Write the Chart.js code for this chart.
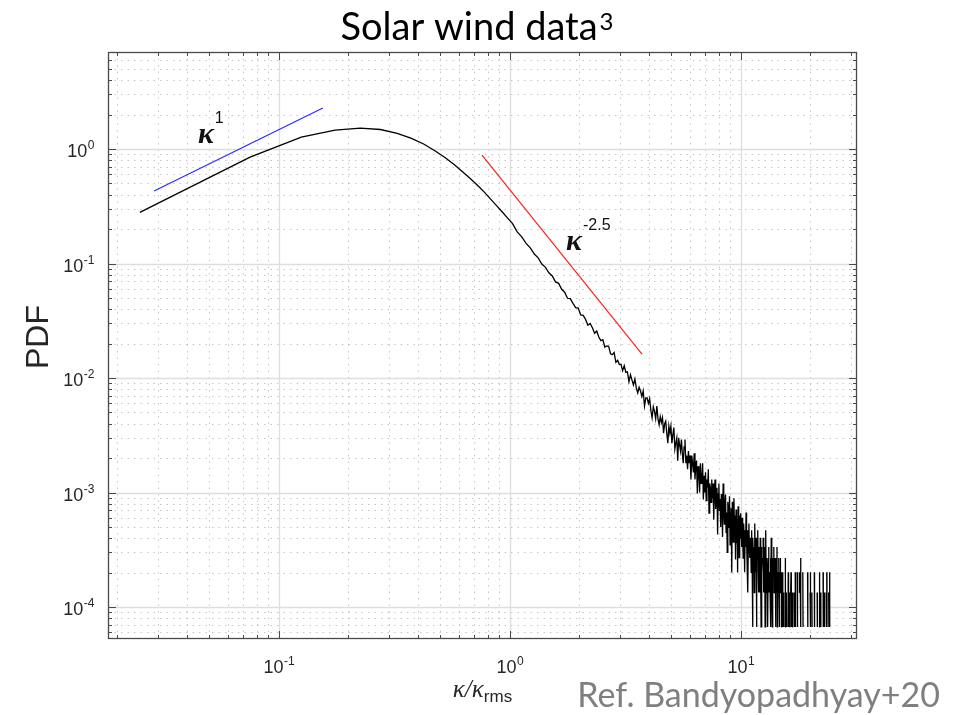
<!DOCTYPE html>
<html>
<head>
<meta charset="utf-8">
<title>Solar wind data</title>
<script src="https://cdn.jsdelivr.net/npm/chart.js@4.4.1/dist/chart.umd.min.js"></script>
<style>
  html, body { margin: 0; padding: 0; background: #fff; }
  canvas { display: block; }
</style>
</head>
<body>
<canvas id="pdfChart" width="969" height="715"></canvas>
<script>
// Histogram bins are linear in kappa/kappa_rms, first bin centred at 0.025
const binStart = 0.025;
const binWidth = 0.05;

// PDF of the well-sampled bins (0.025 ... 9.975)
const pdfCore = [
    0.28, 0.85, 1.27, 1.46, 1.52, 1.48, 1.37, 1.24, 1.10, 0.96,
    0.84, 0.73, 0.63, 0.55, 0.48, 0.42, 0.365, 0.32, 0.283, 0.25,
    0.224, 0.189, 0.171, 0.150, 0.137, 0.121, 0.112, 0.099, 0.0925, 0.0830,
    0.0779, 0.0691, 0.0671, 0.0596, 0.0561, 0.0497, 0.0493, 0.0449, 0.0412, 0.0408,
    0.0355, 0.0353, 0.0325, 0.0289, 0.0299, 0.0275, 0.0246, 0.0257, 0.0228, 0.0212,
    0.0216, 0.0186, 0.0191, 0.0189, 0.0163, 0.0160, 0.0167, 0.0137, 0.0143, 0.0131,
    0.0132, 0.0116, 0.0128, 0.0112, 0.0113, 0.0093, 0.0107, 0.0096, 0.0087, 0.0098,
    0.0082, 0.0074, 0.0083, 0.0077, 0.0069, 0.0077, 0.0057, 0.0067, 0.0067, 0.0060,
    0.0066, 0.0052, 0.0045, 0.0056, 0.0051, 0.0044, 0.0057, 0.0044, 0.0039, 0.0046,
    0.0041, 0.0045, 0.0033, 0.0040, 0.0042, 0.0033, 0.0027, 0.0038, 0.0033, 0.0038,
    0.0027, 0.0032, 0.0037, 0.0024, 0.0027, 0.0030, 0.0019, 0.0030, 0.0026, 0.0023,
    0.0029, 0.0022, 0.0018, 0.0025, 0.0029, 0.0018, 0.0021, 0.0016, 0.0023, 0.0018,
    0.0021, 0.0013, 0.0021, 0.0018, 0.0015, 0.0022, 0.0013, 0.0017, 0.0019, 0.00098,
    0.0017, 0.0015, 0.0010, 0.0018, 0.0012, 0.0013, 0.0018, 0.00087, 0.0014, 0.0010,
    0.0015, 0.00085, 0.0013, 0.0011, 0.0016, 0.00066, 0.0012, 0.0011, 0.00082, 0.0013,
    0.00089, 0.0012, 0.00058, 0.00100, 0.0013, 0.00072, 0.00087, 0.0011, 0.00043, 0.00098,
    0.0012, 0.00069, 0.00088, 0.0005, 0.00097, 0.00079, 0.00041, 0.0012, 0.0007, 0.00053,
    0.00084, 0.00096, 0.00045, 0.00067, 0.0003, 0.00083, 0.0007, 0.00049, 0.00093, 0.00035,
    0.0005, 0.00073, 0.0002, 0.00083, 0.00061, 0.00037, 0.00089, 0.00048, 0.00063, 0.00026,
    0.00071, 0.00036, 0.00059, 0.0002, 0.00076, 0.00048, 0.00027, 0.00063, 0.0004, 0.00066
];

// Raw counts in the sparse tail bins (10.025 ... 24.275), 0 = empty bin
const tailCounts = [
    7, 5, 9, 6, 4, 8, 6, 3, 7, 5, 10, 6, 4, 7, 2, 6, 8, 5, 4, 6,
    5, 3, 7, 4, 1, 6, 4, 5, 2, 8, 4, 3, 6, 1, 5, 4, 7, 3, 2, 5,
    4, 2, 6, 3, 1, 5, 3, 4, 0, 6, 3, 2, 5, 4, 1, 3, 7, 2, 4, 3,
    3, 1, 4, 2, 5, 0, 3, 2, 4, 1, 6, 3, 2, 1, 4, 3, 0, 5, 2, 3,
    2, 4, 1, 3, 0, 2, 5, 1, 3, 2, 0, 4, 2, 1, 3, 2, 4, 0, 1, 3,
    2, 0, 3, 1, 0, 2, 1, 0, 3, 0, 1, 4, 0, 2, 1, 0, 2, 0, 0, 1,
    3, 1, 0, 0, 1, 2, 0, 0, 2, 3, 1, 0, 0, 1, 2, 0, 0, 1, 0, 2,
    1, 0, 0, 3, 1, 0, 0, 2, 0, 0, 3, 1, 0, 0, 1, 0, 0, 2, 3, 0,
    0, 2, 4, 1, 0, 0, 0, 1, 0, 0, 3, 1, 0, 0, 0, 0, 1, 0, 2, 0,
    0, 0, 0, 1, 0, 0, 0, 0, 3, 1, 0, 0, 0, 0, 1, 0, 0, 0, 2, 1,
    3, 0, 0, 0, 0, 2, 1, 0, 0, 0, 0, 0, 0, 1, 0, 3, 1, 0, 0, 0,
    0, 0, 1, 0, 0, 0, 0, 2, 1, 0, 0, 0, 0, 0, 0, 0, 1, 3, 1, 0,
    0, 0, 2, 1, 0, 0, 0, 0, 0, 0, 0, 1, 0, 3, 1, 0, 0, 0, 2, 1,
    0, 0, 0, 1, 0, 0, 0, 2, 1, 0, 3, 1, 0, 0, 0, 0, 1, 0, 0, 2,
    1, 0, 2, 3, 1, 2
];
const pdfPerCount = 6.7e-5;

// Power-law guide lines
const guideOneX = [0.0288, 0.155];
const guideOneY = [0.43, 2.28];
const guideSteepX = [0.757, 3.73];
const guideSteepY = [0.886, 0.0162];

// Axis limits and labelled decades
const xLimits = [0.0182, 31.8];
const yLimits = [5.26e-5, 7.03];
const xDecades = [-1, 0, 1];
const yDecades = [0, -1, -2, -3, -4];

// ---------------------------------------------------------------------------

const curve = [];
pdfCore.forEach((v, i) => curve.push({ x: binStart + i * binWidth, y: v }));
tailCounts.forEach((c, j) => curve.push({
    x: binStart + (pdfCore.length + j) * binWidth,
    y: c > 0 ? c * pdfPerCount : null
}));

const toPoints = (xs, ys) => xs.map((v, i) => ({ x: v, y: ys[i] }));

const INK = '#262626';
const SANS = '"Liberation Sans", Arial, sans-serif';
const TITLE_FONT = 'Lato, "Open Sans", sans-serif';

// 1..9 x 10^n positions inside a range
function logTicks(min, max) {
    const out = [];
    for (let e = Math.floor(Math.log10(min)); e <= Math.ceil(Math.log10(max)); e++) {
        for (let m = 1; m <= 9; m++) {
            const v = m * Math.pow(10, e);
            if (v >= min && v <= max) out.push({ value: v, major: m === 1 });
        }
    }
    return out;
}

function seg(ctx, x1, y1, x2, y2) {
    ctx.beginPath();
    ctx.moveTo(x1, y1);
    ctx.lineTo(x2, y2);
    ctx.stroke();
}

// "10" with a raised exponent
function powerLabel(ctx, exp, x, baseY, align) {
    ctx.font = '18px ' + SANS;
    const wBase = ctx.measureText('10').width;
    ctx.font = '12px ' + SANS;
    const wExp = ctx.measureText(exp).width;
    const left = align === 'center' ? x - (wBase + wExp) / 2 : x - wBase - wExp;
    ctx.font = '18px ' + SANS;
    ctx.fillText('10', left, baseY);
    ctx.font = '12px ' + SANS;
    ctx.fillText(exp, left + wBase + 0.5, baseY - 8);
}

// bold kappa with a power, used for the guide-line labels
function kappaPower(ctx, exp, x, baseY) {
    ctx.font = 'bold italic 30px "Liberation Serif", serif';
    ctx.fillText('\u03BA', x, baseY);
    const w = ctx.measureText('\u03BA').width;
    ctx.font = '16px ' + SANS;
    ctx.fillText(exp, x + w + 1, baseY - 20);
}

const axesDecor = {
    id: 'axesDecor',
    beforeDraw(chart) {
        const ctx = chart.ctx;
        ctx.save();
        ctx.fillStyle = '#fff';
        ctx.fillRect(0, 0, chart.width, chart.height);
        ctx.restore();
    },
    beforeDatasetsDraw(chart) {
        const { ctx, chartArea: a, scales: { x, y } } = chart;
        const xt = logTicks(x.min, x.max);
        const yt = logTicks(y.min, y.max);
        ctx.save();
        ctx.lineWidth = 1;

        // minor grid (dotted)
        ctx.strokeStyle = '#c6c6c6';
        ctx.setLineDash([1.5, 5]);
        xt.filter(t => !t.major).forEach(t => {
            const px = Math.round(x.getPixelForValue(t.value)) + 0.5;
            seg(ctx, px, a.top, px, a.bottom);
        });
        yt.filter(t => !t.major).forEach(t => {
            const py = Math.round(y.getPixelForValue(t.value)) + 0.5;
            seg(ctx, a.left, py, a.right, py);
        });

        // major grid (solid)
        ctx.setLineDash([]);
        ctx.strokeStyle = '#dedede';
        ctx.lineWidth = 1.3;
        xt.filter(t => t.major).forEach(t => {
            const px = Math.round(x.getPixelForValue(t.value)) + 0.5;
            seg(ctx, px, a.top, px, a.bottom);
        });
        yt.filter(t => t.major).forEach(t => {
            const py = Math.round(y.getPixelForValue(t.value)) + 0.5;
            seg(ctx, a.left, py, a.right, py);
        });
        ctx.restore();
    },
    afterDatasetsDraw(chart) {
        const { ctx, chartArea: a, scales: { x, y } } = chart;
        ctx.save();

        // box and inward ticks on all four sides
        ctx.strokeStyle = '#4a4a4a';
        ctx.lineWidth = 1.3;
        ctx.strokeRect(a.left + 0.5, a.top + 0.5, a.right - a.left - 1, a.bottom - a.top - 1);
        ctx.lineWidth = 1;
        logTicks(x.min, x.max).forEach(t => {
            const px = Math.round(x.getPixelForValue(t.value)) + 0.5;
            const len = t.major ? 8 : 4;
            seg(ctx, px, a.bottom, px, a.bottom - len);
            seg(ctx, px, a.top, px, a.top + len);
        });
        logTicks(y.min, y.max).forEach(t => {
            const py = Math.round(y.getPixelForValue(t.value)) + 0.5;
            const len = t.major ? 8 : 4;
            seg(ctx, a.left, py, a.left + len, py);
            seg(ctx, a.right, py, a.right - len, py);
        });

        // tick labels
        ctx.fillStyle = INK;
        ctx.textAlign = 'left';
        ctx.textBaseline = 'alphabetic';
        xDecades.forEach(d => {
            powerLabel(ctx, String(d), x.getPixelForValue(Math.pow(10, d)), a.bottom + 34, 'center');
        });
        yDecades.forEach(d => {
            powerLabel(ctx, String(d), a.left - 14, y.getPixelForValue(Math.pow(10, d)) + 8, 'right');
        });

        // y axis title
        ctx.save();
        ctx.translate(48, 337);
        ctx.rotate(-Math.PI / 2);
        ctx.textAlign = 'center';
        ctx.font = '32px ' + SANS;
        ctx.fillText('PDF', 0, 0);
        ctx.restore();

        // x axis title: kappa / kappa_rms
        ctx.font = 'italic 25px "Liberation Serif", serif';
        const k = '\u03BA';
        const wK = ctx.measureText(k).width;
        const wS = ctx.measureText('/').width;
        ctx.font = '17px ' + SANS;
        const wR = ctx.measureText('rms').width;
        let cx = (a.left + a.right) / 2 - (2 * wK + wS + wR) / 2;
        const by = 697;
        ctx.font = 'italic 25px "Liberation Serif", serif';
        ctx.fillText(k, cx, by); cx += wK;
        ctx.fillText('/', cx, by); cx += wS;
        ctx.fillText(k, cx, by); cx += wK;
        ctx.font = '17px ' + SANS;
        ctx.fillText('rms', cx, by + 5);

        // guide-line labels
        ctx.fillStyle = '#111';
        kappaPower(ctx, '1', x.getPixelForValue(0.0446), y.getPixelForValue(1.13));
        kappaPower(ctx, '-2.5', x.getPixelForValue(1.75), y.getPixelForValue(0.131));

        // title with superscript
        ctx.fillStyle = '#000';
        ctx.font = '38px ' + TITLE_FONT;
        const tMain = 'Solar wind data';
        const wT = ctx.measureText(tMain).width;
        ctx.font = '24px ' + TITLE_FONT;
        const wSup = ctx.measureText('3').width;
        const tx = 477 - (wT + wSup + 2) / 2;
        ctx.font = '38px ' + TITLE_FONT;
        ctx.fillText(tMain, tx, 40);
        ctx.font = '24px ' + TITLE_FONT;
        ctx.fillText('3', tx + wT + 2, 30);

        // reference note
        ctx.fillStyle = '#7f7f7f';
        ctx.textAlign = 'right';
        ctx.font = '34px ' + TITLE_FONT;
        ctx.fillText('Ref. Bandyopadhyay+20', 940, 707);

        ctx.restore();
    }
};

new Chart(document.getElementById('pdfChart'), {
    type: 'line',
    data: {
        datasets: [
            {
                data: curve,
                borderColor: '#000',
                borderWidth: 1.3,
                pointRadius: 0,
                spanGaps: false,
                tension: 0
            },
            {
                data: toPoints(guideOneX, guideOneY),
                borderColor: '#2b2bff',
                borderWidth: 1.2,
                pointRadius: 0
            },
            {
                data: toPoints(guideSteepX, guideSteepY),
                borderColor: '#ff1f1f',
                borderWidth: 1.2,
                pointRadius: 0
            }
        ]
    },
    options: {
        responsive: false,
        animation: false,
        events: [],
        layout: { padding: { left: 108, top: 52, right: 112, bottom: 76 } },
        plugins: {
            legend: { display: false },
            tooltip: { enabled: false }
        },
        scales: {
            x: { type: 'logarithmic', min: xLimits[0], max: xLimits[1], display: false },
            y: { type: 'logarithmic', min: yLimits[0], max: yLimits[1], display: false }
        }
    },
    plugins: [axesDecor]
});
</script>
</body>
</html>
